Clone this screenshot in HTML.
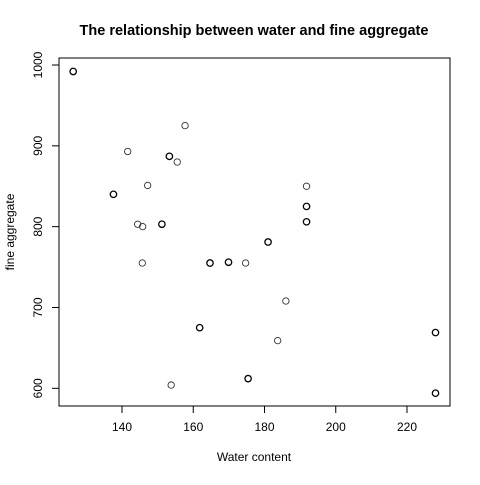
<!DOCTYPE html>
<html><head><meta charset="utf-8"><style>
body{margin:0;background:#fff}
svg{font-family:"Liberation Sans",sans-serif}
</style></head><body>
<svg id="chart" width="480" height="480" xmlns="http://www.w3.org/2000/svg">
<rect width="480" height="480" fill="#fff"/>
<text x="254" y="35" text-anchor="middle" font-size="14.5" font-weight="bold">The relationship between water and fine aggregate</text>
<rect x="59" y="58" width="391" height="348" fill="none" stroke="#000" stroke-width="1"/>
<text x="254" y="461" text-anchor="middle" font-size="12">Water content</text>
<text x="0" y="0" transform="translate(14,232) rotate(-90)" text-anchor="middle" font-size="12">fine aggregate</text>
<g id="axes"></g>
<g id="points"></g>
</svg>
<script>
const water = [126.3,141.6,157.7,153.3,155.5,147.2,137.6,144.4,145.8,151.2,145.7,164.7,169.9,161.8,153.8,174.7,191.8,191.8,191.8,181,186,183.7,175.4,228,228];
const fineAgg = [992,893,925,887,880,851,840,803,800,803,755,755,756,675,604,755,850,825,806,781,708,659,612,669,594];
const dup = [1,0,0,1,0,0,1,0,0,1,0,1,1,1,0,0,0,1,1,1,0,0,1,1,1];
const xTicks = [140,160,180,200,220];
const yTicks = [600,700,800,900,1000];
const NS="http://www.w3.org/2000/svg";
function xs(v){return 122+(v-140)*3.5625;}
function ys(v){return 65+(1000-v)*0.8083;}
const ax=document.getElementById('axes');
function mk(t,a,p){const e=document.createElementNS(NS,t);for(const k in a)e.setAttribute(k,a[k]);p.appendChild(e);return e;}
let l=mk('line',{x1:xs(xTicks[0]),x2:xs(xTicks[xTicks.length-1]),y1:406,y2:406,stroke:'#000'},ax);


l=mk('line',{x1:59,x2:59,y1:ys(yTicks[0]),y2:ys(yTicks[yTicks.length-1]),stroke:'#000'},ax);


xTicks.forEach(v=>{
 const t=mk('line',{x1:xs(v),x2:xs(v),y1:406,y2:413,stroke:'#000'},ax);
 
 
 const tx=mk('text',{x:xs(v),y:431,'text-anchor':'middle','font-size':12},ax);tx.textContent=v;
 
 
});
yTicks.forEach(v=>{
 const t=mk('line',{x1:52,x2:59,y1:ys(v),y2:ys(v),stroke:'#000'},ax);
 
 
 const tx=mk('text',{x:0,y:0,transform:`translate(42,${ys(v)}) rotate(-90)`,'text-anchor':'middle','font-size':12},ax);tx.textContent=v;
 
 
});
const pg=document.getElementById('points');
water.forEach((w,i)=>{
 const c=mk('circle',{cx:xs(w),cy:ys(fineAgg[i]),r:3.2,fill:'none',stroke:dup[i]?'#000':'#333','stroke-width':dup[i]?1.3:0.9},pg);
 
 
});
</script>
</body></html>
